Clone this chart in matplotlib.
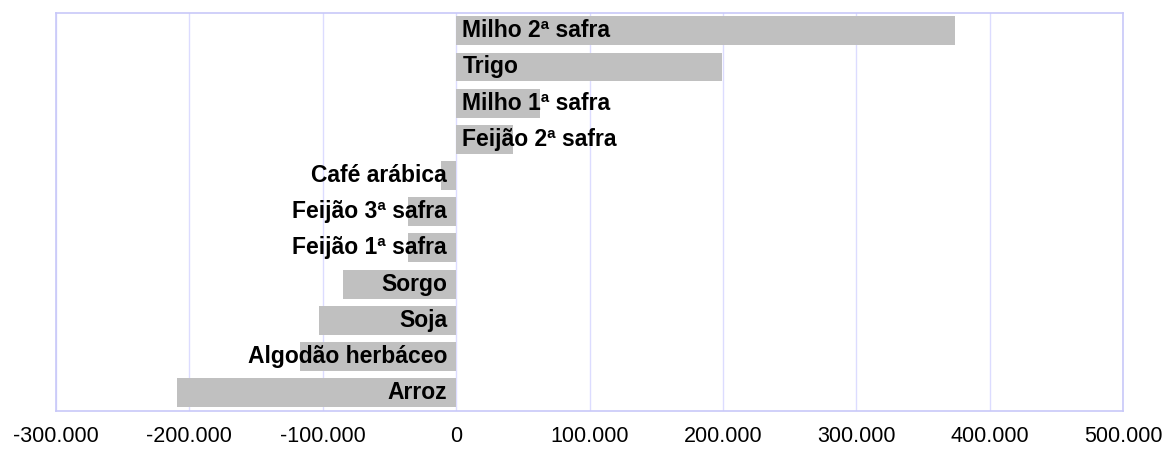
import matplotlib
matplotlib.use("Agg")
import matplotlib.pyplot as plt
from matplotlib.ticker import FuncFormatter

categories = ["Milho 2ª safra", "Trigo", "Milho 1ª safra", "Feijão 2ª safra",
              "Café arábica", "Feijão 3ª safra", "Feijão 1ª safra", "Sorgo",
              "Soja", "Algodão herbáceo", "Arroz"]
values = [374300, 199000, 63000, 43000, -11000, -36000, -36000, -84700,
          -102600, -117000, -209000]
xticks = [-300000, -200000, -100000, 0, 100000, 200000, 300000, 400000, 500000]

W, H = 1163, 455
fig = plt.figure(figsize=(W / 100, H / 100), dpi=100)
left, right, top, bottom = 56, 1123, 12.7, 410.7
ax = fig.add_axes([left / W, 1 - bottom / H, (right - left) / W, (bottom - top) / H])

n = len(categories)
ypos = [n - 1 - i for i in range(n)]
grid_c = "#DCDCFF"
border_c = "#C8C8F8"

ax.set_xlim(-300000, 500000)
ax.set_ylim(-0.5, n - 0.5)
ax.set_xticks(xticks)
for x in xticks:
    ax.axvline(x, color=grid_c, lw=1, zorder=0)
ax.barh(ypos, values, height=0.8, color="#C0C0C0", zorder=2)

for y, v, lab in zip(ypos, values, categories):
    if v >= 0:
        ax.annotate(lab, (0, y), xytext=(4.5, 0), textcoords="offset points",
                    ha="left", va="center", fontsize=16.5, fontweight="bold",
                    family="Liberation Sans", zorder=3)
    else:
        ax.annotate(lab, (0, y), xytext=(-6.5, 0), textcoords="offset points",
                    ha="right", va="center", fontsize=16.5, fontweight="bold",
                    family="Liberation Sans", zorder=3)

ax.xaxis.set_major_formatter(FuncFormatter(lambda v, p: f"{int(v):,}".replace(",", ".")))
ax.set_yticks([])
ax.tick_params(axis="x", length=0, pad=11, labelsize=15.5)
for lbl in ax.get_xticklabels():
    lbl.set_family("Liberation Sans")
for s in ax.spines.values():
    s.set_color(border_c)
    s.set_linewidth(1.2)

fig.savefig("out.png", dpi=100)
